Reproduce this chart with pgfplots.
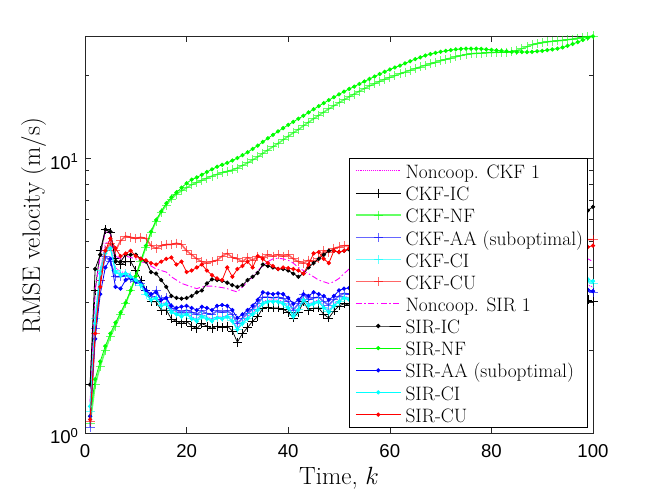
\documentclass[border=0pt]{standalone}
\usepackage{pgfplots}
\usepackage{pgfplotstable}
\pgfplotsset{compat=1.18}
\usepackage{fontspec}
\newfontfamily\arialf{Liberation Sans}
\definecolor{cgreen}{rgb}{0,1,0}
\definecolor{cblue}{rgb}{0,0,1}
\definecolor{ccyan}{rgb}{0,1,1}
\definecolor{cred}{rgb}{1,0,0}
\definecolor{cmag}{rgb}{1,0,1}
\definecolor{axgray}{rgb}{0.15,0.15,0.15}

\pgfplotstableread{
k ncckf ckfic ckfnf ckfaa ckfci ckfcu ncsir siric sirnf siraa sirci sircu
1 1.25 1.5 1.08 1.05 1.2 1.1 1.3 1.5 1.15 1.15 1.25 1.12
2 2.6 3.3 1.5 2.4 2.6 2.3 3.3 3.95 1.57 2.2 2.5 2.3
3 3.9 4.6 1.75 3.6 3.9 3.6 4.4 4.45 1.82 3.2 3.8 3.4
4 4.9 5.5 2.0 4.4 4.6 4.6 5.4 5.5 2.07 4.0 4.5 4.6
5 5.0 5.35 2.25 4.2 4.75 4.9 5.3 5.4 2.3 4.3 4.7 5.1
6 4.0 4.3 2.45 3.7 3.9 4.6 4.4 4.2 2.52 3.4 3.85 4.7
7 3.85 4.1 2.7 3.7 3.8 5.0 4.3 4.2 2.74 3.35 3.75 4.4
8 3.85 4.2 2.95 3.75 3.8 5.2 4.4 4.45 2.98 3.6 3.8 4.5
9 3.75 4.2 3.3 3.65 3.7 5.15 4.35 4.45 3.3 3.65 3.7 4.6
10 3.65 3.9 3.7 3.55 3.6 5.1 4.3 4.45 3.72 3.55 3.6 4.4
11 3.5 3.6 4.2 3.5 3.45 5.15 4.2 4.3 4.25 3.5 3.45 4.3
12 3.25 3.3 4.75 3.3 3.2 5.1 4.15 4.2 4.8 3.3 3.2 4.25
13 3.1 3.0 5.35 3.15 3.05 4.8 4.05 3.85 5.4 3.2 3.05 4.15
14 3.15 3.0 5.9 3.3 3.1 4.7 3.95 3.8 5.95 3.25 3.1 4.1
15 2.95 2.8 6.35 3.05 2.9 4.8 3.9 3.6 6.4 3.05 2.9 4.2
16 3.0 2.8 6.75 3.1 2.95 4.85 3.85 3.4 6.85 3.1 2.95 4.3
17 2.8 2.6 7.1 2.85 2.78 4.85 3.7 3.15 7.2 2.9 2.75 4.35
18 2.75 2.55 7.4 2.8 2.72 4.9 3.6 3.1 7.5 2.85 2.7 4.1
19 2.7 2.5 7.6 2.75 2.68 4.85 3.5 3.08 7.8 2.88 2.65 4.2
20 2.75 2.55 7.8 2.8 2.72 4.6 3.45 3.1 8.1 2.9 2.7 3.85
21 2.65 2.45 8.0 2.75 2.62 4.45 3.4 3.15 8.35 2.85 2.6 3.9
22 2.6 2.4 8.15 2.7 2.58 4.3 3.35 3.25 8.5 2.8 2.55 4.0
23 2.7 2.5 8.3 2.78 2.68 4.2 3.4 3.3 8.7 2.88 2.65 4.1
24 2.65 2.45 8.45 2.72 2.62 4.15 3.42 3.5 8.9 2.85 2.6 3.9
25 2.6 2.4 8.6 2.7 2.58 4.2 3.42 3.62 9.1 2.8 2.55 3.75
26 2.66 2.45 8.72 2.78 2.64 4.25 3.4 3.6 9.3 2.9 2.62 3.65
27 2.64 2.42 8.85 2.75 2.62 4.4 3.38 3.58 9.45 2.92 2.6 3.6
28 2.68 2.45 8.95 2.78 2.66 4.5 3.35 3.52 9.6 2.9 2.65 4.0
29 2.58 2.35 9.05 2.7 2.56 4.35 3.3 3.45 9.8 2.8 2.55 3.7
30 2.42 2.14 9.2 2.5 2.38 4.3 3.26 3.4 10.0 2.62 2.38 3.95
31 2.55 2.3 9.4 2.62 2.52 4.2 3.4 3.45 10.25 2.7 2.5 4.05
32 2.65 2.42 9.6 2.72 2.62 4.35 3.55 3.6 10.5 2.8 2.6 4.2
33 2.75 2.55 9.85 2.82 2.72 4.25 3.7 3.7 10.8 2.9 2.7 4.0
34 2.86 2.65 10.1 2.95 2.82 4.4 3.9 3.82 11.1 3.05 2.8 4.4
35 3.0 2.85 10.4 3.12 2.97 4.35 4.05 4.1 11.45 3.25 2.95 4.3
36 3.05 2.87 10.7 3.12 3.02 4.45 4.2 4.05 11.8 3.22 3.0 4.15
37 3.05 2.85 11.0 3.1 3.02 4.4 4.3 4.0 12.15 3.2 3.0 4.05
38 3.05 2.85 11.3 3.12 3.02 4.45 4.32 3.95 12.5 3.22 3.0 3.95
39 3.0 2.82 11.65 3.08 2.97 4.4 4.3 3.95 12.85 3.2 2.95 4.0
40 2.9 2.75 12.0 3.0 2.87 4.45 4.25 3.9 13.2 3.1 2.85 3.98
41 2.7 2.62 12.35 2.8 2.68 4.3 4.15 3.8 13.55 2.95 2.65 3.95
42 2.85 2.75 12.7 2.95 2.82 4.2 4.0 3.7 13.9 3.05 2.8 3.9
43 3.1 3.0 13.1 3.2 3.07 4.15 3.9 3.8 14.25 3.2 3.05 3.8
44 2.95 2.8 13.5 3.05 2.92 4.25 3.8 4.0 14.65 3.15 2.9 4.1
45 3.0 2.85 13.9 3.1 2.97 4.2 3.7 4.15 15.05 3.25 2.95 4.5
46 3.05 2.85 14.3 3.12 3.02 4.3 3.6 4.3 15.45 3.2 3.0 4.55
47 2.9 2.7 14.7 3.0 2.87 4.6 3.55 4.45 15.85 3.15 2.85 4.3
48 2.8 2.62 15.1 2.92 2.77 4.55 3.5 4.6 16.25 3.05 2.75 4.15
49 2.95 2.78 15.5 3.05 2.92 4.7 3.55 4.6 16.65 3.15 2.9 4.6
50 3.05 2.9 15.9 3.15 3.02 4.75 3.65 4.55 17.05 3.3 3.0 4.55
51 3.15 2.95 16.3 3.22 3.12 4.8 3.8 4.6 17.45 3.35 3.1 4.6
52 3.1 2.92 16.7 3.2 3.07 4.8 3.95 4.65 17.85 3.37 3.05 4.7
53 3.15 2.95 17.1 3.22 3.1 4.75 4.0 4.7 18.2 3.35 3.1 4.65
54 3.2 3.0 17.5 3.25 3.15 4.8 4.05 4.75 18.6 3.38 3.15 4.7
55 3.15 2.95 17.9 3.2 3.1 4.85 4.1 4.8 19.0 3.35 3.1 4.6
56 3.2 2.98 18.3 3.25 3.15 4.8 4.15 4.85 19.4 3.4 3.15 4.65
57 3.25 3.02 18.65 3.28 3.2 4.75 4.2 4.9 19.8 3.42 3.2 4.7
58 3.2 2.98 19.0 3.25 3.15 4.85 4.2 4.95 20.2 3.38 3.15 4.75
59 3.15 2.92 19.35 3.2 3.1 4.9 4.15 5.0 20.6 3.35 3.1 4.7
60 3.2 2.95 19.65 3.22 3.15 4.85 4.1 5.0 21.0 3.38 3.15 4.65
61 3.25 3.0 19.95 3.25 3.2 4.8 4.1 5.05 21.35 3.4 3.2 4.6
62 3.3 3.05 20.25 3.3 3.25 4.85 4.15 5.1 21.7 3.45 3.25 4.7
63 3.25 3.0 20.55 3.28 3.2 4.9 4.2 5.1 22.1 3.42 3.2 4.75
64 3.2 2.95 20.85 3.22 3.15 4.95 4.25 5.15 22.5 3.38 3.15 4.8
65 3.25 3.0 21.15 3.25 3.2 4.9 4.3 5.2 22.9 3.4 3.2 4.75
66 3.3 3.05 21.45 3.3 3.25 4.85 4.3 5.2 23.25 3.45 3.25 4.7
67 3.35 3.08 21.75 3.32 3.3 4.9 4.25 5.25 23.6 3.48 3.3 4.75
68 3.3 3.02 22.0 3.28 3.25 4.95 4.2 5.3 23.9 3.45 3.25 4.8
69 3.25 2.98 22.3 3.25 3.2 5.0 4.2 5.3 24.15 3.4 3.2 4.75
70 3.3 3.02 22.6 3.28 3.25 4.95 4.25 5.35 24.35 3.42 3.25 4.7
71 3.35 3.06 22.85 3.3 3.3 4.9 4.3 5.4 24.55 3.45 3.3 4.75
72 3.4 3.1 23.1 3.35 3.35 4.95 4.35 5.4 24.7 3.5 3.35 4.8
73 3.35 3.05 23.35 3.3 3.3 5.0 4.35 5.45 24.85 3.45 3.3 4.85
74 3.3 3.0 23.6 3.25 3.25 5.05 4.3 5.5 24.95 3.4 3.25 4.8
75 3.35 3.05 23.8 3.28 3.3 5.0 4.3 5.5 25.0 3.42 3.3 4.75
76 3.4 3.08 23.95 3.3 3.35 4.95 4.35 5.55 25.0 3.45 3.35 4.7
77 3.45 3.1 24.05 3.35 3.4 5.0 4.4 5.6 25.0 3.48 3.4 4.75
78 3.4 3.06 24.1 3.3 3.35 5.05 4.4 5.6 24.95 3.45 3.35 4.8
79 3.35 3.02 24.15 3.25 3.3 5.0 4.35 5.65 24.85 3.4 3.3 4.75
80 3.4 3.05 24.2 3.28 3.35 4.95 4.3 5.7 24.75 3.42 3.35 4.7
81 3.45 3.08 24.25 3.3 3.4 5.0 4.35 5.7 24.65 3.45 3.4 4.75
82 3.5 3.12 24.3 3.35 3.45 5.05 4.4 5.75 24.55 3.5 3.45 4.8
83 3.45 3.08 24.3 3.3 3.4 5.0 4.45 5.75 24.45 3.45 3.4 4.85
84 3.4 3.04 24.35 3.28 3.35 4.95 4.45 5.8 24.35 3.42 3.35 4.8
85 3.45 3.06 24.6 3.3 3.4 5.0 4.4 5.8 24.3 3.45 3.4 4.75
86 3.5 3.1 25.0 3.32 3.45 5.05 4.4 5.85 24.3 3.48 3.45 4.7
87 3.55 3.12 25.4 3.35 3.5 5.0 4.45 5.85 24.3 3.5 3.5 4.75
88 3.5 3.08 25.8 3.3 3.45 4.95 4.5 5.9 24.35 3.45 3.45 4.8
89 3.45 3.04 26.1 3.28 3.4 5.0 4.5 5.9 24.45 3.42 3.4 4.75
90 3.5 3.06 26.3 3.3 3.45 5.05 4.45 5.9 24.55 3.45 3.45 4.7
91 3.55 3.1 26.45 3.32 3.5 5.0 4.4 5.95 24.7 3.48 3.5 4.75
92 3.6 3.12 26.6 3.35 3.55 5.05 4.45 5.95 24.85 3.5 3.55 4.8
93 3.55 3.08 26.7 3.3 3.5 5.1 4.5 5.95 25.0 3.45 3.5 4.75
94 3.5 3.05 26.8 3.28 3.45 5.05 4.5 5.95 25.25 3.42 3.45 4.7
95 3.55 3.08 26.95 3.3 3.5 5.0 4.45 6.0 25.6 3.45 3.5 4.75
96 3.6 3.1 27.1 3.32 3.55 5.05 4.45 6.0 26.0 3.45 3.6 4.8
97 3.6 3.1 27.3 3.3 3.62 5.05 4.45 6.05 26.4 3.42 3.65 4.75
98 3.55 3.12 27.5 3.3 3.6 5.0 4.45 6.2 26.9 3.38 3.7 4.7
99 3.45 3.05 27.65 3.28 3.55 5.05 4.3 6.45 27.35 3.32 3.62 4.75
100 3.4 3.0 27.8 3.25 3.5 5.05 4.2 6.65 27.7 3.28 3.57 4.8
}\data

\begin{document}
\begin{tikzpicture}
\useasboundingbox (-85pt,-59pt) rectangle (569pt,433pt);
\begin{axis}[
  at={(0pt,0pt)}, anchor=south west,
  scale only axis, width=508pt, height=397pt,
  ymode=log, xmin=0, xmax=100, ymin=1, ymax=27.8,
  xtick={0,20,40,60,80,100},
  ytick={1,10}, yticklabels={10\textsuperscript{0},10\textsuperscript{1}},
  minor ytick={2,3,4,5,6,7,8,9,20},
  /pgf/number format/assume math mode=true,
  tick label style={font=\arialf\fontsize{18.6}{20}\selectfont, text=black},
  xticklabel style={yshift=-7.5pt},
  yticklabel style={anchor=base east, yshift=-11pt, xshift=-3pt},
  major tick length=6pt, minor tick length=4.5pt,
  every tick/.style={axgray, line width=0.6pt},
  axis line style={axgray, line width=0.6pt},
  xlabel={Time, $k$},
  ylabel={RMSE velocity (m/s)},
  xlabel style={font=\fontsize{25}{28}\selectfont, at={(axis description cs:0.5,-0.1285)}, anchor=base},
  ylabel style={font=\fontsize{25}{28}\selectfont, at={(axis description cs:-0.0886,0.522)}, anchor=base},
  clip mode=individual,
  legend cell align=left,
  legend image code/.code={%
    \path (0pt,0pt);
    \draw[mark repeat=2,mark phase=2,#1] plot coordinates {(6pt,0pt) (28.5pt,0pt) (51pt,0pt)};%
  },
  legend style={
    at={(axis description cs:0.519,0.692)}, anchor=north west,
    font=\fontsize{19.4}{22}\selectfont,
    draw=black, line width=0.6pt, fill=white,
    inner xsep=0pt, inner ysep=1.3pt,
    nodes={inner xsep=4pt, inner ysep=0.5pt, text height=18.2pt, text depth=2.95pt},
  },
]
\addplot[color=cmag, draw=cmag, line width=0.9pt, densely dotted] table[x=k,y=ncckf]{\data};
\addlegendentry{Noncoop. CKF 1}
\addplot[color=black, draw=black, line width=0.7pt, mark=+, mark size=4.5pt, mark options={solid, line width=0.7pt}] table[x=k,y=ckfic]{\data};
\addlegendentry{CKF-IC}
\addplot[color=cgreen, draw=cgreen, opacity=0.6, line width=1.6pt, mark=+, mark size=4.5pt, mark options={solid, line width=0.9pt}] table[x=k,y=ckfnf]{\data};
\addlegendentry{CKF-NF}
\addplot[color=cblue, draw=cblue, opacity=0.6, line width=1.6pt, mark=+, mark size=4.5pt, mark options={solid, line width=0.9pt}] table[x=k,y=ckfaa]{\data};
\addlegendentry{CKF-AA (suboptimal)}
\addplot[color=ccyan, draw=ccyan, opacity=0.6, line width=1.6pt, mark=+, mark size=4.5pt, mark options={solid, line width=0.9pt}] table[x=k,y=ckfci]{\data};
\addlegendentry{CKF-CI}
\addplot[color=cred, draw=cred, opacity=0.6, line width=1.6pt, mark=+, mark size=4.5pt, mark options={solid, line width=0.9pt}] table[x=k,y=ckfcu]{\data};
\addlegendentry{CKF-CU}
\addplot[color=cmag, draw=cmag, line width=0.9pt, dash pattern=on 6pt off 2.5pt on 1.5pt off 2.5pt] table[x=k,y=ncsir]{\data};
\addlegendentry{Noncoop. SIR 1}
\addplot[color=black, draw=black, line width=0.8pt, mark=*, mark size=1.7pt, mark options={solid}] table[x=k,y=siric]{\data};
\addlegendentry{SIR-IC}
\addplot[color=cgreen, draw=cgreen, line width=0.8pt, mark=*, mark size=1.7pt, mark options={solid}] table[x=k,y=sirnf]{\data};
\addlegendentry{SIR-NF}
\addplot[color=cblue, draw=cblue, line width=0.8pt, mark=*, mark size=1.7pt, mark options={solid}] table[x=k,y=siraa]{\data};
\addlegendentry{SIR-AA (suboptimal)}
\addplot[color=ccyan, draw=ccyan, line width=0.8pt, mark=*, mark size=1.7pt, mark options={solid}] table[x=k,y=sirci]{\data};
\addlegendentry{SIR-CI}
\addplot[color=cred, draw=cred, line width=0.8pt, mark=*, mark size=1.7pt, mark options={solid}] table[x=k,y=sircu]{\data};
\addlegendentry{SIR-CU}
\end{axis}
\end{tikzpicture}
\end{document}
